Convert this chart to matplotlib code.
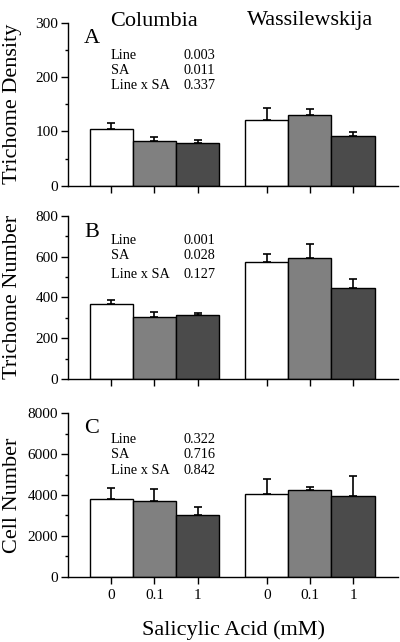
import matplotlib
matplotlib.use("Agg")
import matplotlib.pyplot as plt
from matplotlib.ticker import MultipleLocator

plt.rcParams['font.family'] = ['Liberation Serif', 'DejaVu Serif']

# ---- data ----
lines = ["Columbia", "Wassilewskija"]
sa_levels = ["0", "0.1", "1"]

density_col = [105, 82, 79]
density_col_err = [10, 8, 6]
density_ws = [121, 130, 91.5]
density_ws_err = [22.5, 11, 7.5]

number_col = [369, 302, 313]
number_col_err = [16, 28, 12]
number_ws = [574, 594, 446]
number_ws_err = [36, 66, 45]

cells_col = [3820, 3707, 3007]
cells_col_err = [524, 588, 421]
cells_ws = [4065, 4261, 3967]
cells_ws_err = [719, 131, 949]

stats_labels = ["Line", "SA", "Line x SA"]
stats_A = ["0.003", "0.011", "0.337"]
stats_B = ["0.001", "0.028", "0.127"]
stats_C = ["0.322", "0.716", "0.842"]

colors = ["#ffffff", "#808080", "#4b4b4b"]
W, H = 400, 642

fig = plt.figure(figsize=(W / 100, H / 100), dpi=100)


def fx(px):
    return px / W


def fy(py):
    return 1 - py / H


def make_axes(top, bottom):
    return fig.add_axes([fx(68), fy(bottom), fx(398) - fx(68), fy(top) - fy(bottom)])


pos_col = [0, 1, 2]
pos_ws = [3.6, 4.6, 5.6]

panels = [
    dict(top=22.7, bottom=185.7, ymax=300, major=100, minor=50,
         col=density_col, colerr=density_col_err, ws=density_ws, wserr=density_ws_err,
         ylabel="Trichome Density", letter="A", letter_y=43.3,
         stats=stats_A, stats_y=[59, 74, 89.3]),
    dict(top=215.7, bottom=379, ymax=800, major=200, minor=100,
         col=number_col, colerr=number_col_err, ws=number_ws, wserr=number_ws_err,
         ylabel="Trichome Number", letter="B", letter_y=236.7,
         stats=stats_B, stats_y=[244.5, 259, 278.5]),
    dict(top=413.3, bottom=576.7, ymax=8000, major=2000, minor=1000,
         col=cells_col, colerr=cells_col_err, ws=cells_ws, wserr=cells_ws_err,
         ylabel="Cell Number", letter="C", letter_y=433.3,
         stats=stats_C, stats_y=[442.7, 458.3, 474]),
]

for i, p in enumerate(panels):
    ax = make_axes(p["top"], p["bottom"])
    for xs, vals, errs in [(pos_col, p["col"], p["colerr"]), (pos_ws, p["ws"], p["wserr"])]:
        ax.bar(xs, vals, width=1.0, color=colors, edgecolor="black", linewidth=1.0, zorder=2)
        ax.errorbar(xs, vals, yerr=[[0] * len(errs), errs], fmt="none", ecolor="black",
                    elinewidth=1.2, capsize=2.8, capthick=1.2, zorder=3)
    ax.set_xlim(-1.0, 6.64)
    ax.set_ylim(0, p["ymax"])
    ax.yaxis.set_major_locator(MultipleLocator(p["major"]))
    ax.yaxis.set_minor_locator(MultipleLocator(p["minor"]))
    ax.set_xticks(pos_col + pos_ws)
    if i == 2:
        ax.set_xticklabels(sa_levels + sa_levels, fontsize=11)
    else:
        ax.set_xticklabels([])
    for s in ["top", "right"]:
        ax.spines[s].set_visible(False)
    for s in ["left", "bottom"]:
        ax.spines[s].set_linewidth(1.0)
    ax.tick_params(axis="y", which="major", direction="out", length=5, width=1.0,
                   labelsize=11, pad=2)
    ax.tick_params(axis="x", which="major", direction="out", length=5, width=1.0,
                   labelsize=11, pad=4)
    ax.tick_params(axis="y", which="minor", direction="out", length=2.5, width=1.0)
    ax.tick_params(axis="x", which="minor", length=0)
    fig.text(fx(13), fy((p["top"] + p["bottom"]) / 2), p["ylabel"], rotation=90,
             ha="center", va="center", fontsize=16)
    fig.text(fx(84), fy(p["letter_y"]), p["letter"], ha="left", va="baseline", fontsize=16)
    for lab, val, yy in zip(stats_labels, p["stats"], p["stats_y"]):
        fig.text(fx(110.7), fy(yy), lab, ha="left", va="baseline", fontsize=10.3)
        fig.text(fx(184), fy(yy), val, ha="left", va="baseline", fontsize=10.3)
    if i == 0:
        # header baseline placed ~25 px from the top of the figure
        hdr = matplotlib.transforms.blended_transform_factory(ax.transData, fig.transFigure)
        ax.text(sum(pos_col) / 3, fy(25.5), lines[0], transform=hdr,
                ha="center", va="baseline", fontsize=16)
        ax.text(sum(pos_ws) / 3, fy(25.5), lines[1], transform=hdr,
                ha="center", va="baseline", fontsize=16)
    if i == 2:
        ax.set_xlabel("Salicylic Acid (mM)", fontsize=16, labelpad=13)

fig.savefig("out.png", dpi=100)
